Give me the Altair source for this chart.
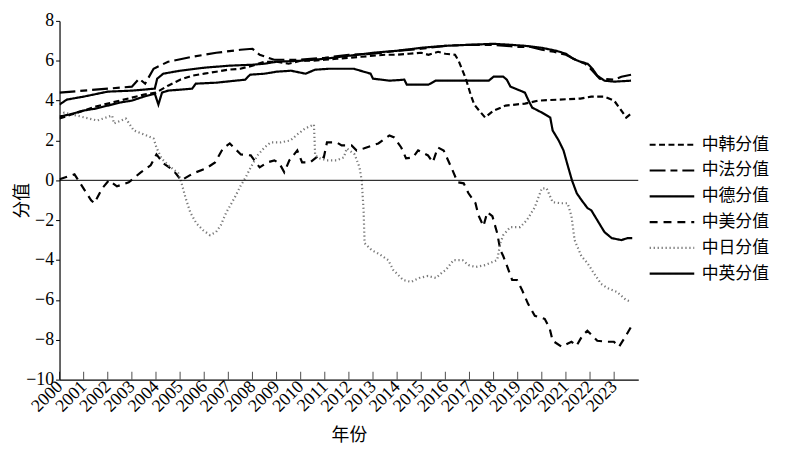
import altair as alt
import pandas as pd

series_names = ["中韩分值", "中法分值", "中德分值", "中美分值", "中日分值", "中英分值"]

years_kr = [2000.0, 2000.5, 2001.0, 2001.5, 2002.0, 2002.5, 2003.0, 2003.5, 2004.0, 2004.5, 2005.0, 2005.5,
            2006.0, 2006.5, 2007.0, 2007.5, 2008.0, 2008.5, 2009.0, 2009.5, 2010.0, 2010.5, 2011.0, 2011.5,
            2012.0, 2012.5, 2013.0, 2013.5, 2014.0, 2014.5, 2015.0, 2015.3, 2015.7, 2016.0, 2016.4, 2016.55,
            2016.85, 2017.05, 2017.2, 2017.4, 2017.65, 2018.0, 2018.5, 2018.9, 2019.3, 2019.85, 2020.7,
            2021.6, 2022.05, 2022.6, 2023.0, 2023.3, 2023.5, 2023.7]
vals_kr = [3.1, 3.3, 3.5, 3.7, 3.85, 4.0, 4.15, 4.3, 4.4, 4.75, 5.05, 5.25,
           5.35, 5.45, 5.55, 5.6, 5.75, 5.95, 5.95, 5.85, 6.0, 6.0, 6.05, 6.1,
           6.15, 6.2, 6.25, 6.3, 6.3, 6.35, 6.4, 6.3, 6.45, 6.35, 6.3, 6.0,
           5.1, 4.3, 3.8, 3.5, 3.15, 3.5, 3.75, 3.8, 3.85, 4.0, 4.05,
           4.1, 4.2, 4.2, 4.0, 3.5, 3.15, 3.35]

years_fr = [2000.0, 2001.0, 2002.0, 2003.0, 2003.3, 2003.55, 2003.9, 2004.5, 2005.5, 2006.5, 2007.5, 2008.0,
            2008.3, 2008.9, 2010.0, 2011.0, 2012.0, 2013.0, 2014.0, 2015.0, 2016.0, 2017.0, 2018.0, 2019.0,
            2019.5, 2020.0, 2020.5, 2021.0, 2021.4, 2021.8, 2022.1, 2022.4, 2023.0, 2023.3, 2023.7]
vals_fr = [4.4, 4.5, 4.6, 4.7, 5.1, 4.85, 5.6, 5.95, 6.2, 6.4, 6.55, 6.6,
           6.3, 6.05, 6.05, 6.15, 6.3, 6.35, 6.5, 6.6, 6.75, 6.8, 6.8, 6.7,
           6.7, 6.55, 6.45, 6.3, 6.05, 5.85, 5.5, 5.1, 5.05, 5.2, 5.3]

years_de = [2000.0, 2000.3, 2001.0, 2002.0, 2003.0, 2003.95, 2004.05, 2004.3, 2005.0, 2006.0, 2007.0, 2008.0,
            2008.5, 2009.0, 2010.0, 2011.0, 2012.0, 2013.0, 2014.0, 2015.0, 2016.0, 2017.0, 2018.0, 2018.7,
            2019.3, 2020.0, 2020.6, 2021.0, 2021.3, 2021.6, 2021.9, 2022.1, 2022.3, 2022.6, 2023.0, 2023.7]
vals_de = [3.8, 4.05, 4.2, 4.45, 4.5, 4.6, 5.1, 5.35, 5.5, 5.65, 5.75, 5.8,
           5.85, 5.95, 6.0, 6.1, 6.25, 6.4, 6.5, 6.65, 6.75, 6.8, 6.85, 6.8,
           6.75, 6.65, 6.5, 6.35, 6.1, 5.95, 5.85, 5.6, 5.25, 5.0, 4.95, 5.0]

years_us = [2000.0, 2000.62, 2001.31, 2001.44, 2001.77, 2002.05, 2002.38, 2002.87, 2003.37, 2003.78, 2004.02,
            2004.31, 2004.72, 2005.05, 2005.54, 2006.08, 2006.45, 2006.78, 2007.06, 2007.52, 2007.93, 2008.3,
            2008.62, 2008.91, 2009.12, 2009.32, 2009.53, 2009.86, 2010.06, 2010.39, 2010.76, 2010.96, 2011.09,
            2011.5, 2011.7, 2012.11, 2012.32, 2012.61, 2013.22, 2013.68, 2013.88, 2014.17, 2014.37, 2014.66,
            2014.87, 2015.28, 2015.48, 2015.69, 2015.93, 2016.3, 2016.51, 2016.76, 2016.96, 2017.25, 2017.37,
            2017.58, 2017.74, 2017.95, 2018.15, 2018.28, 2018.4, 2018.56, 2018.77, 2018.97, 2019.18, 2019.43,
            2019.71, 2020.12, 2020.33, 2020.45, 2020.82, 2021.23, 2021.44, 2021.68, 2021.89, 2022.3, 2022.71,
            2022.99, 2023.2, 2023.49, 2023.7]
vals_us = [0.05, 0.3, -1.0, -1.15, -0.4, 0.0, -0.3, -0.1, 0.4, 0.75, 1.3,
           0.85, 0.5, 0.0, 0.35, 0.6, 0.9, 1.6, 1.85, 1.3, 1.25, 0.65,
           0.9, 1.0, 0.85, 0.4, 1.0, 1.5, 0.9, 0.9, 1.25, 1.15, 1.9,
           1.9, 1.75, 1.75, 1.5, 1.6, 1.85, 2.25, 2.15, 1.65, 1.1, 1.15,
           1.5, 1.25, 0.9, 1.65, 1.5, 0.5, -0.1, -0.15, -0.65, -1.15, -1.75,
           -2.3, -1.6, -1.8, -2.65, -3.5, -3.8, -4.3, -5.0, -5.0, -5.5, -6.2,
           -6.8, -6.95, -7.45, -8.05, -8.35, -8.1, -8.3, -7.8, -7.55, -8.05, -8.1,
           -8.1, -8.35, -7.8, -7.35]

years_jp = [2000.0, 2000.2, 2001.56, 2002.18, 2002.26, 2002.75, 2003.08, 2003.61, 2003.9, 2004.02, 2004.23,
            2004.52, 2004.93, 2005.05, 2005.22, 2005.42, 2005.67, 2005.95, 2006.24, 2006.49, 2006.69, 2006.9,
            2007.27, 2007.52, 2007.72, 2007.93, 2008.21, 2008.5, 2008.75, 2009.16, 2009.57, 2009.86, 2010.18,
            2010.55, 2010.6, 2010.8, 2011.09, 2011.5, 2011.79, 2011.91, 2012.24, 2012.44, 2012.53, 2012.61,
            2012.65, 2012.94, 2013.26, 2013.63, 2013.84, 2014.25, 2014.58, 2014.91, 2015.28, 2015.61, 2015.89,
            2016.02, 2016.34, 2016.71, 2016.96, 2017.25, 2017.66, 2018.15, 2018.28, 2018.4, 2018.69, 2019.1,
            2019.38, 2019.71, 2020.0, 2020.2, 2020.45, 2020.82, 2021.07, 2021.23, 2021.36, 2021.64, 2021.89,
            2022.18, 2022.46, 2022.71, 2023.12, 2023.49, 2023.7]
vals_jp = [3.3, 3.4, 3.0, 3.25, 2.85, 3.1, 2.5, 2.25, 2.1, 1.65, 1.1,
           0.75, 0.35, -0.1, -0.85, -1.6, -2.15, -2.5, -2.75, -2.6, -2.25, -1.65,
           -0.85, -0.25, 0.15, 0.65, 1.25, 1.65, 1.9, 1.9, 2.0, 2.3, 2.6,
           2.8, 1.25, 1.1, 1.0, 1.0, 1.15, 1.6, 1.3, 0.65, 0.0, -1.5,
           -3.15, -3.5, -3.7, -4.0, -4.5, -5.0, -5.1, -4.9, -4.8, -4.9, -4.6,
           -4.5, -4.0, -4.0, -4.25, -4.35, -4.25, -4.0, -3.15, -2.75, -2.35, -2.35,
           -2.0, -1.35, -0.4, -0.4, -1.1, -1.15, -1.15, -1.8, -3.0, -3.8, -4.15,
           -4.7, -5.2, -5.4, -5.6, -6.0, -6.1]

years_uk = [2000.0, 2000.4, 2001.0, 2001.5, 2002.0, 2002.5, 2003.0, 2003.5, 2003.95, 2004.1, 2004.25, 2004.5,
            2005.0, 2005.5, 2005.65, 2006.5, 2007.3, 2007.7, 2007.9, 2008.5, 2009.0, 2009.6, 2010.2, 2010.6,
            2011.2, 2012.2, 2012.9, 2013.0, 2013.7, 2014.3, 2014.4, 2014.85, 2015.3, 2015.6, 2016.0, 2017.0,
            2017.8, 2018.0, 2018.4, 2018.55, 2018.7, 2019.0, 2019.3, 2019.45, 2019.6, 2020.0, 2020.35, 2020.45,
            2020.7, 2020.9, 2021.05, 2021.25, 2021.45, 2021.65, 2021.9, 2022.05, 2022.3, 2022.6, 2022.9,
            2023.3, 2023.55, 2023.75]
vals_uk = [3.2, 3.3, 3.5, 3.6, 3.75, 3.9, 4.0, 4.2, 4.35, 3.8, 4.4, 4.5,
           4.55, 4.6, 4.85, 4.9, 5.0, 5.05, 5.3, 5.35, 5.45, 5.5, 5.35, 5.55,
           5.6, 5.6, 5.35, 5.1, 5.0, 5.05, 4.8, 4.8, 4.8, 5.0, 5.0, 5.0,
           5.0, 5.2, 5.2, 5.05, 4.7, 4.55, 4.4, 4.0, 3.65, 3.4, 3.15, 2.5,
           2.0, 1.5, 0.85, 0.0, -0.65, -1.0, -1.4, -1.5, -2.0, -2.6, -2.9,
           -3.0, -2.9, -2.9]

tick_years = list(range(2000, 2024))
y_ticks = list(range(-10, 9, 2))

rows = []
for name, ys, vs in zip(series_names,
                        [years_kr, years_fr, years_de, years_us, years_jp, years_uk],
                        [vals_kr, vals_fr, vals_de, vals_us, vals_jp, vals_uk]):
    for i, (yr, v) in enumerate(zip(ys, vs)):
        rows.append({"series": name, "year": yr, "value": v, "order": i})
df = pd.DataFrame(rows)

colors = ["black", "black", "black", "black", "#7a7a7a", "black"]
dashes = [[6, 3.5], [16, 5, 7, 5], [1, 0], [8, 6], [1.3, 2.7], [1, 0]]
widths = [2.2, 2.2, 2.6, 2.2, 1.5, 1.5]

legend = alt.Legend(
    title=None, orient="none", legendX=594, legendY=115,
    symbolType="stroke", symbolSize=2025,
    labelFont="Noto Sans CJK SC", labelFontSize=17, labelColor="black",
    labelOffset=6, clipHeight=20, rowPadding=6,
)

x_axis = alt.Axis(values=tick_years, format="d", labelAngle=-45, labelAlign="right",
                  labelBaseline="middle", tickSize=0, labelPadding=4, grid=False,
                  labelOverlap=False, labelFontSize=18, title="年份", titlePadding=12)
y_axis = alt.Axis(values=y_ticks, tickSize=4, grid=False, title="分值",
                  titleX=-28, titleY=181, labelPadding=2)
x_scale = alt.Scale(domain=[2000, 2024], nice=False, zero=False)
y_scale = alt.Scale(domain=[-10, 8], nice=False)

def xe():
    return alt.X("year:Q", scale=x_scale, axis=x_axis)

def ye():
    return alt.Y("value:Q", scale=y_scale, axis=y_axis)

lines = alt.Chart(df).mark_line(clip=True).encode(
    x=xe(), y=ye(),
    color=alt.Color("series:N", scale=alt.Scale(domain=series_names, range=colors), legend=legend),
    strokeDash=alt.StrokeDash("series:N", scale=alt.Scale(domain=series_names, range=dashes), legend=legend),
    strokeWidth=alt.StrokeWidth("series:N", scale=alt.Scale(domain=series_names, range=widths), legend=legend),
    order="order:Q",
)

zero = alt.Chart(pd.DataFrame({"value": [0]})).mark_rule(color="black", strokeWidth=1).encode(y=ye())

ticks = alt.Chart(pd.DataFrame({"year": tick_years, "value": [-10] * len(tick_years)})).mark_tick(
    orient="vertical", size=8, yOffset=-4, thickness=1, color="black"
).encode(x=xe(), y=ye())

chart = alt.layer(lines, zero, ticks).properties(
    width=584, height=362,
    autosize=alt.AutoSizeParams(type="none"),
    padding={"left": 52, "top": 11, "right": 140, "bottom": 67},
).configure_view(stroke=None).configure_axis(
    labelFont="Liberation Serif", labelFontSize=18, labelColor="black",
    domainColor="black", tickColor="black", domainWidth=1.2,
    titleFont="Noto Sans CJK SC", titleFontSize=18, titleFontWeight="normal", titleColor="black",
)

chart.save("out.html", embed_options={"renderer": "svg", "actions": False})
